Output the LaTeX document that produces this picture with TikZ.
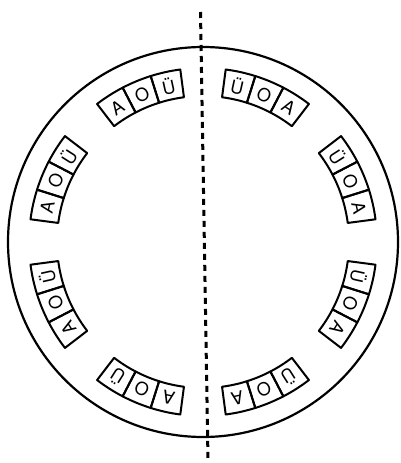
\documentclass[tikz,border=0pt]{standalone}
\usepackage{fontspec}
\setmainfont{TeX Gyre Heros}

\begin{document}
\begin{tikzpicture}[x=1pt, y=1pt, line join=round,
        ring/.style={line width=2.2pt},
        cell/.style={line width=2pt},
        axis/.style={line width=3pt, dash pattern=on 6pt off 5pt},
        letter/.style={inner sep=0pt, font=\fontsize{18}{18}\selectfont}
    ]
    \useasboundingbox (-203,-221) rectangle (197,242);
    % outer wheel
    \draw[ring] (0,0) circle[radius=195];
    % symmetry line
    \coordinate (top) at (-2.5,230);
    \coordinate (bot) at (5,-218);
    \draw[axis] (top) -- (bot);
    % letter blocks, read clockwise
    \foreach \a/\p/\q [count=\i] in {112.5/A/Ü, 157.5/A/Ü, 202.5/A/Ü, 247.5/A/Ü,
                                     67.5/Ü/A, 22.5/Ü/A, -22.5/Ü/A, -67.5/Ü/A} {
        \foreach \d/\t [count=\j] in {10/\p, 0/O, -10/\q} {
            \pgfmathsetmacro{\lo}{\a+\d-5}
            \pgfmathsetmacro{\hi}{\a+\d+5}
            \draw[cell] (\lo:146) arc[start angle=\lo, end angle=\hi, radius=146]
                -- (\hi:174) arc[start angle=\hi, end angle=\lo, radius=174] -- cycle;
            \node[letter, rotate=\a+\d-90] (c\i-\j) at (\a+\d:159.5) {\t};
        }
    }
\end{tikzpicture}
\end{document}
